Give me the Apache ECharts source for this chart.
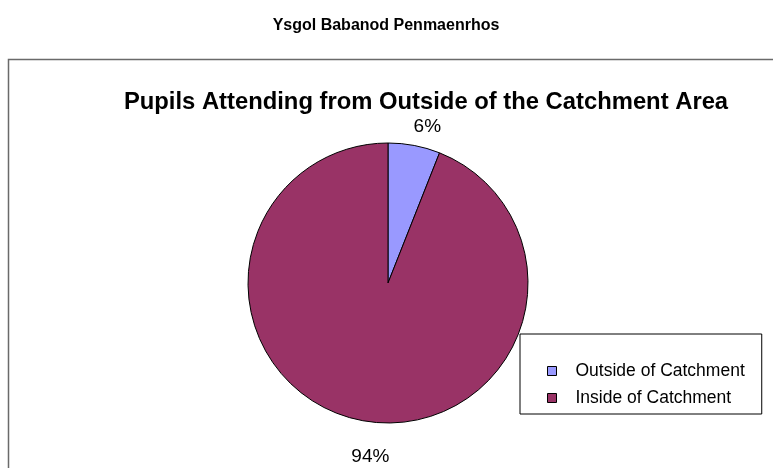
<!DOCTYPE html>
<html>
<head>
<meta charset="utf-8">
<script src="https://cdn.jsdelivr.net/npm/echarts@6/dist/echarts.min.js"></script>
<style>
  html, body { margin: 0; padding: 0; background: #fff; }
  #chart { width: 773px; height: 468px; }
</style>
</head>
<body>
<div id="chart"></div>
<script>
// 数据
var categories = ['Outside of Catchment', 'Inside of Catchment'];
var values = [6, 94];
var colors = ['#9999FF', '#993366'];

var chart = echarts.init(document.getElementById('chart'));

var option = {
    animation: false,
    graphic: [{
        type: 'rect',
        shape: { x: 8.5, y: 59.5, width: 800, height: 500 },
        style: { fill: 'none', stroke: '#6a6a6a', lineWidth: 1.5 },
        z: -1
    }],
    title: [{
        text: 'Ysgol Babanod Penmaenrhos',
        left: 381,
        textAlign: 'center',
        top: 13,
        textStyle: { fontFamily: 'Liberation Sans', fontSize: 16, fontWeight: 'bold', color: '#000' }
    }, {
        text: 'Pupils Attending from Outside of the Catchment Area',
        left: 421,
        textAlign: 'center',
        top: 85,
        textStyle: { fontFamily: 'Liberation Sans', fontSize: 23.8, fontWeight: 'bold', color: '#000' }
    }],
    legend: {
        orient: 'vertical',
        left: 520,
        top: 334,
        icon: 'rect',
        itemWidth: 9,
        itemHeight: 9,
        itemGap: 9,
        padding: [28, 17, 7, 27],
        borderColor: '#000',
        borderWidth: 1,
        backgroundColor: '#fff',
        data: categories,
        itemStyle: { borderColor: '#000', borderWidth: 1 },
        textStyle: { fontFamily: 'Liberation Sans', fontSize: 17.5, color: '#000', padding: [0, 0, 0, 14] }
    },
    series: [{
        type: 'pie',
        center: [388, 283],
        radius: 140,
        startAngle: 90,
        clockwise: true,
        silent: true,
        itemStyle: { borderColor: '#000', borderWidth: 1 },
        label: {
            position: 'outside',
            formatter: '{d}%',
            fontFamily: 'Liberation Sans',
            fontSize: 19,
            color: '#000'
        },
        labelLine: { show: false, length: 18, length2: 0 },
        labelLayout: function (p) {
            return p.dataIndex === 1 ? { dx: 36, dy: 19 } : { dx: -9, dy: -1 };
        },
        data: categories.map(function (c, i) {
            return { name: c, value: values[i], itemStyle: { color: colors[i] } };
        })
    }]
};

chart.setOption(option);
</script>
</body>
</html>
